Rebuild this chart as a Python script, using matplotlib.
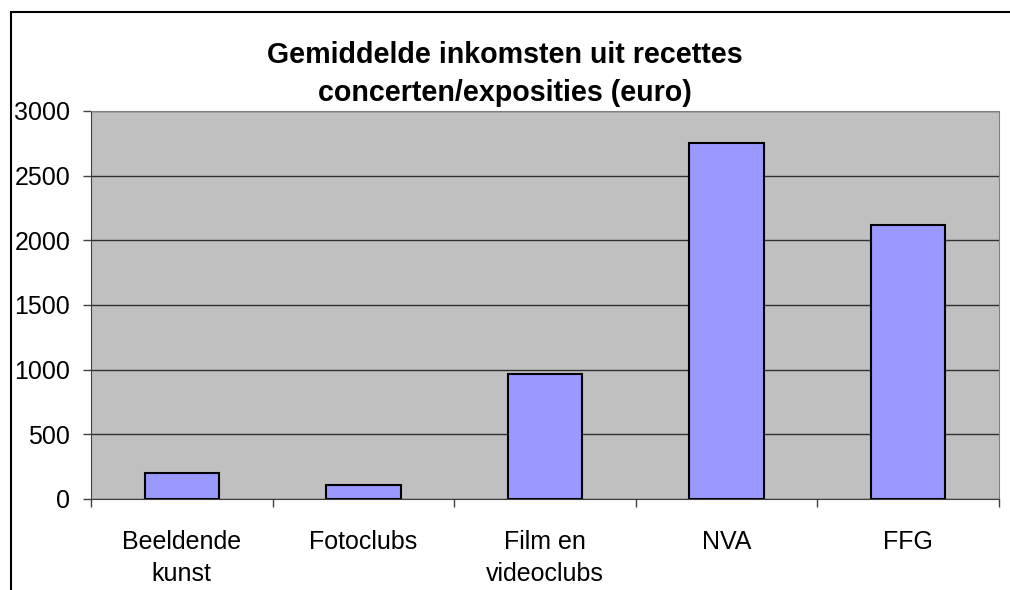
import matplotlib.pyplot as plt
import matplotlib.patches as patches
import numpy as np

# data
categories = ["Beeldende\nkunst", "Fotoclubs", "Film en\nvideoclubs", "NVA", "FFG"]
values = [200, 105, 970, 2750, 2115]
yticks = [0, 500, 1000, 1500, 2000, 2500, 3000]

plt.rcParams['font.family'] = ['Liberation Sans', 'DejaVu Sans']

fig = plt.figure(figsize=(10.1, 5.9), dpi=100)

# outer chart border (cut off at right and bottom)
border = patches.Rectangle((11 / 1010, -0.1), 1.2, 1 - 12 / 590 + 0.1,
                           transform=fig.transFigure, fill=False,
                           edgecolor='black', linewidth=1.5, clip_on=False)
fig.patches.append(border)

ax = fig.add_axes([91 / 1010, 1 - 499 / 590, 908 / 1010, 388 / 590])
ax.set_facecolor('#C0C0C0')

x = np.arange(len(categories))
ax.bar(x, values, width=0.41, color='#9999FF', edgecolor='black',
       linewidth=1.5, zorder=3)

ax.set_xlim(-0.5, len(categories) - 0.5)
ax.set_ylim(0, 3000)
ax.set_yticks(yticks)
ax.yaxis.grid(True, color='#303030', linewidth=1.0, zorder=1)
ax.set_axisbelow(True)

ax.set_xticks(x)
ax.set_xticklabels(categories, fontsize=18, linespacing=1.45)
ax.set_xticks(np.arange(len(categories) + 1) - 0.5, minor=True)
ax.tick_params(axis='x', which='major', length=0, pad=22)
ax.tick_params(axis='x', which='minor', length=6, color='#404040', width=1)
ax.tick_params(axis='y', length=6, color='#404040', width=1, pad=9,
               labelsize=18)

for side in ['top', 'right']:
    ax.spines[side].set_color('#808080')
ax.spines['left'].set_color('#404040')
ax.spines['bottom'].set_color('#404040')

fig.text(0.5, 1 - 74 / 590, "Gemiddelde inkomsten uit recettes\nconcerten/exposities (euro)",
         ha='center', va='center', fontsize=20.6, fontweight='bold',
         linespacing=1.45)

fig.savefig('out.png', dpi=100)
